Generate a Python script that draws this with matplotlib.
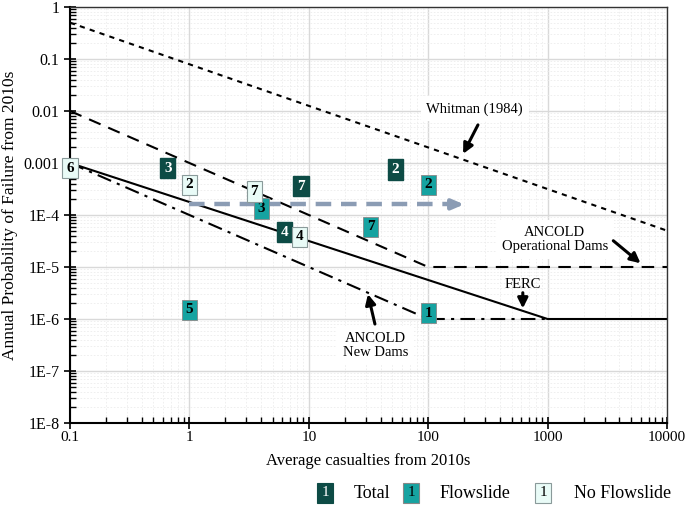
import numpy as np
import matplotlib.pyplot as plt
from matplotlib.ticker import LogLocator, NullFormatter, FixedLocator, FixedFormatter

plt.rcParams["font.family"] = ["Liberation Serif", "DejaVu Serif"]

# criterion lines (x, y)
whitman_x = [0.1, 10000]
whitman_y = [0.5, 5e-5]
ancold_op_x = [0.1, 100, 10000]
ancold_op_y = [1e-2, 1e-5, 1e-5]
ferc_x = [0.1, 1000, 10000]
ferc_y = [1e-3, 1e-6, 1e-6]
ancold_new_x = [0.1, 100, 1000]
ancold_new_y = [1e-3, 1e-6, 1e-6]

# case points: label, casualties, probability
total_lbl = ["3", "2", "7", "4"]
total_x = [0.66, 53, 8.6, 6.3]
total_y = [8e-4, 7.5e-4, 3.6e-4, 4.7e-5]

flow_lbl = ["3", "2", "7", "5", "1"]
flow_x = [4.0, 100, 33, 1.0, 100]
flow_y = [1.35e-4, 3.8e-4, 5.9e-5, 1.5e-6, 1.3e-6]

noflow_lbl = ["6", "2", "7", "4"]
noflow_x = [0.1, 1.0, 3.5, 8.3]
noflow_y = [8e-4, 3.8e-4, 2.8e-4, 3.8e-5]

# trend arrow
trend_x = [1, 200]
trend_y = [1.6e-4, 1.6e-4]

C_TOTAL = "#0d4b45"
C_FLOW = "#16a3a1"
C_NOFLOW = "#e9fbf7"

fig = plt.figure(figsize=(6.85, 5.05), dpi=100)
ax = fig.add_axes([70 / 685, 1 - 423 / 505, 597 / 685, 416 / 505])
ax.set_xscale("log")
ax.set_yscale("log")
ax.set_xlim(0.1, 10000)
ax.set_ylim(1e-8, 1)

ax.grid(True, which="major", color="#d9d9d9", linewidth=1.0)
ax.grid(True, which="minor", color="#ececec", linewidth=0.6, linestyle=(0, (2, 2)))
ax.set_axisbelow(True)

ax.plot(whitman_x, whitman_y, color="black", linewidth=1.5, linestyle=(0, (2.5, 2.5)))
ax.plot(ancold_op_x, ancold_op_y, color="black", linewidth=1.5, linestyle=(0, (6, 4)))
ax.plot(ferc_x, ferc_y, color="black", linewidth=1.5)
ax.plot(ancold_new_x, ancold_new_y, color="black", linewidth=1.5,
        linestyle=(0, (7, 3, 1.5, 3)))

# trend arrow (dashed shaft + head)
ax.plot([trend_x[0], trend_x[1] * 0.8], trend_y, color="#8b9cb4", linewidth=3.2,
        linestyle=(0, (3.5, 2.2)))
ax.annotate("", xy=(trend_x[1], trend_y[1]), xytext=(trend_x[1] * 0.75, trend_y[1]),
            arrowprops=dict(arrowstyle="-|>,head_width=0.3,head_length=0.7",
                            color="#8b9cb4", linewidth=3.0, shrinkA=0, shrinkB=0))

box_kw = dict(fontsize=11, fontweight="bold", ha="center", va="center", zorder=5)
for lbl, x, y in zip(total_lbl, total_x, total_y):
    ax.text(x, y, lbl, color="white",
            bbox=dict(boxstyle="square,pad=0.25", facecolor=C_TOTAL, edgecolor=C_TOTAL), **box_kw)
for lbl, x, y in zip(flow_lbl, flow_x, flow_y):
    ax.text(x, y, lbl, color="black",
            bbox=dict(boxstyle="square,pad=0.25", facecolor=C_FLOW, edgecolor="#888888", linewidth=0.6), **box_kw)
for lbl, x, y in zip(noflow_lbl, noflow_x, noflow_y):
    ax.text(x, y, lbl, color="black",
            bbox=dict(boxstyle="square,pad=0.25", facecolor=C_NOFLOW, edgecolor="#8a9a9a", linewidth=0.8), **box_kw)

# annotations
lbl_box = dict(boxstyle="square,pad=0.4", facecolor="white", edgecolor="none")
arr = dict(arrowstyle="-|>,head_width=0.3,head_length=0.6", color="black", linewidth=2.2,
           shrinkA=0, shrinkB=0)
ax.text(245, 0.011, "Whitman (1984)", fontsize=10.5, ha="center", va="center", bbox=lbl_box, zorder=4)
ax.annotate("", xy=(196, 1.5e-3), xytext=(261, 5.4e-3), arrowprops=arr, zorder=6)

ax.text(1150, 3.4e-5, "ANCOLD\nOperational Dams", fontsize=10.5, ha="center", va="center",
        linespacing=1.1, bbox=lbl_box, zorder=4)
ax.annotate("", xy=(6000, 1.18e-5), xytext=(3550, 3.2e-5), arrowprops=arr, zorder=6)

ax.text(620, 4.7e-6, "FERC", fontsize=10.5, ha="center", va="center", zorder=4)
ax.annotate("", xy=(620, 1.6e-6), xytext=(620, 3.2e-6), arrowprops=arr, zorder=6)

ax.text(36, 3.1e-7, "ANCOLD\nNew Dams", fontsize=10.5, ha="center", va="center",
        linespacing=1.1, bbox=lbl_box, zorder=4)
ax.annotate("", xy=(31.3, 3.0e-6), xytext=(35.8, 8.0e-7), arrowprops=arr, zorder=6)

# ticks
xt = [0.1, 1, 10, 100, 1000, 10000]
ax.xaxis.set_major_locator(FixedLocator(xt))
ax.xaxis.set_major_formatter(FixedFormatter(["0.1", "1", "10", "100", "1000", "10000"]))
ax.xaxis.set_minor_locator(LogLocator(base=10, subs=np.arange(2, 10)))
ax.xaxis.set_minor_formatter(NullFormatter())
yt = [1e-8, 1e-7, 1e-6, 1e-5, 1e-4, 1e-3, 1e-2, 1e-1, 1]
ax.yaxis.set_major_locator(FixedLocator(yt))
ax.yaxis.set_major_formatter(FixedFormatter(["1E-8", "1E-7", "1E-6", "1E-5", "1E-4",
                                             "0.001", "0.01", "0.1", "1"]))
ax.yaxis.set_minor_locator(LogLocator(base=10, subs=np.arange(2, 10)))
ax.yaxis.set_minor_formatter(NullFormatter())
ax.tick_params(which="major", direction="inout", length=8, width=1.2, labelsize=11.5, color="black")
ax.tick_params(axis="x", which="major", labelsize=11, pad=2)
ax.tick_params(which="minor", direction="in", length=4, width=1.0, color="black")
for s in ["left", "bottom"]:
    ax.spines[s].set_linewidth(1.5)
for s in ["top", "right"]:
    ax.spines[s].set_linewidth(1.0)
    ax.spines[s].set_color("#333333")

ax.set_xlabel("Average casualties from 2010s", fontsize=12, labelpad=6)
ax.set_ylabel("Annual Probability of Failure from 2010s", fontsize=12.5, labelpad=4)

# legend
leg_y = 1 - 493 / 505
leg_items = [(325, 354, "Total", C_TOTAL, "white", C_TOTAL),
             (411, 440, "Flowslide", C_FLOW, "black", "#888888"),
             (543, 574, "No Flowslide", C_NOFLOW, "black", "#8a9a9a")]
for bx, tx, name, fc, tc, ec in leg_items:
    fig.text(bx / 685, leg_y, "1", fontsize=11, color=tc, ha="center", va="center",
             bbox=dict(boxstyle="square,pad=0.25", facecolor=fc, edgecolor=ec, linewidth=0.8))
    fig.text(tx / 685, leg_y, name, fontsize=13, ha="left", va="center")

fig.savefig("out.png", dpi=100)
